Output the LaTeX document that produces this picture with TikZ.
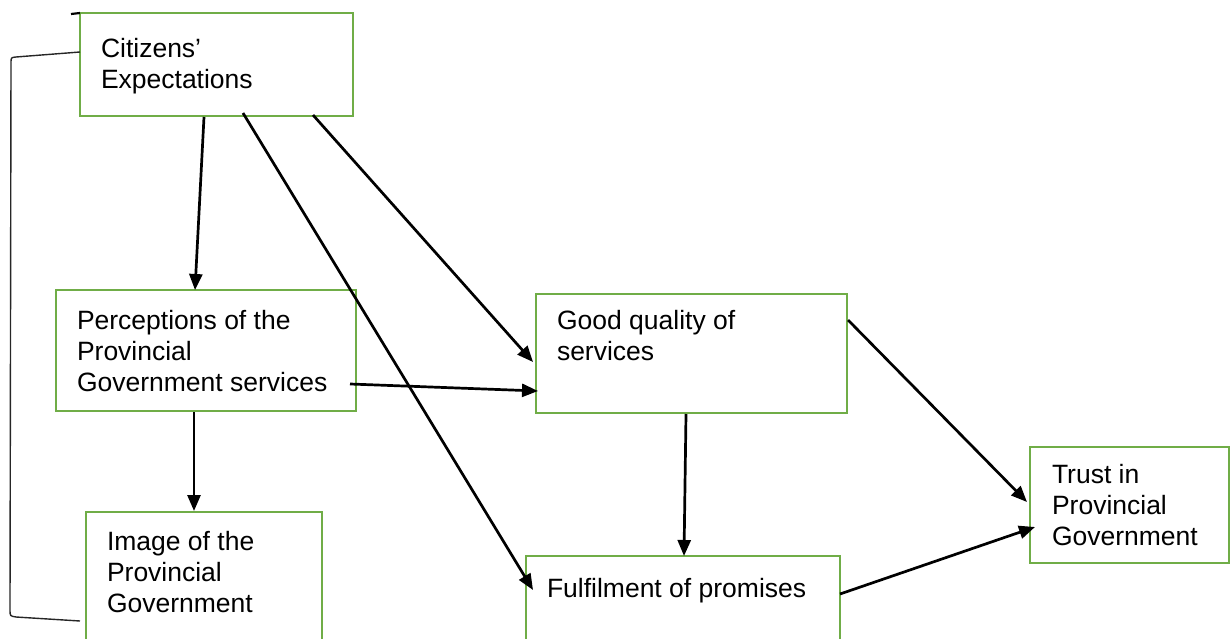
\documentclass[tikz,border=0pt]{standalone}
\usepackage{fontspec}
\setmainfont{Liberation Sans}
\usetikzlibrary{calc,arrows.meta}
\definecolor{boxgreen}{RGB}{112,173,71}
\begin{document}
\begin{tikzpicture}[x=1pt,y=-1pt,
  box/.style={draw=boxgreen, line width=2.8pt, inner sep=0pt, outer sep=0pt,
              anchor=north west, rectangle},
  % anchored at the baseline of the last line of the label
  lbl/.style={anchor=base west, inner sep=0pt, outer sep=0pt, align=left,
              font=\fontsize{26.5}{31}\selectfont},
  arr/.style={line width=2.7pt, -{Triangle[length=16pt,width=13pt]}},
  bracket/.style={line width=1.4pt, draw=black!85},
  tick/.style={line width=2.2pt}]
  \useasboundingbox (0,0) rectangle (1230,639);
  \clip (0,0) rectangle (1230,639);

  \coordinate (bracket-top) at (80,52);
  \coordinate (bracket-bot) at (80,621);

  % boxes
  \node[box, minimum width=273pt, minimum height=103pt] (ce)  at (80,13)   {};
  \node[box, minimum width=300pt, minimum height=121pt] (ppg) at (56,290)  {};
  \node[box, minimum width=236pt, minimum height=140pt] (ipg) at (86,512)  {};
  \node[box, minimum width=311pt, minimum height=119pt] (gqs) at (536,294) {};
  \node[box, minimum width=314pt, minimum height=100pt] (fp)  at (526,556) {};
  \node[box, minimum width=199pt, minimum height=116pt] (tpg) at (1030,447) {};

  % small mark at the top left corner of the first box
  \draw[tick] ($(ce.north west)+(-9,1)$) -- (ce.north west);

  % grouping bracket on the left
  \draw[bracket] (ce.north west |- bracket-top) -- (16,57)
    .. controls (11,57.5) .. (11,63) -- (10,610)
    .. controls (10,616) .. (16,617) -- (bracket-bot);

  % labels
  \node[lbl] (ce-t)  at (101,89)  {Citizens’\\Expectations};
  \node[lbl] (ppg-t) at (77,391)  {Perceptions of the\\Provincial\\Government services};
  \node[lbl] (ipg-t) at (107,612) {Image of the\\Provincial\\Government};
  \node[lbl] (gqs-t) at (557,360) {Good quality of\\services};
  \node[lbl] (fp-t)  at (547,597) {Fulfilment of promises};
  \node[lbl] (tpg-t) at (1052,545) {Trust in\\Provincial\\Government};

  % connectors
  \draw[arr] ($(ce.north west)+(124,104)$)  -- ($(ppg.north west)+(139,0)$);
  \draw[arr] ($(ce.north west)+(163,100)$)  -- ($(fp.north west)+(7,34)$);
  \draw[arr] ($(ce.north west)+(233,102)$)  -- ($(gqs.north west)+(-3,68)$);
  \draw[arr] ($(ppg.north west)+(294,94)$)  -- ($(gqs.north west)+(2,97)$);
  \draw[arr] ($(ppg.north west)+(138,122)$) -- ($(ipg.north west)+(108,-1)$);
  \draw[arr] ($(gqs.north west)+(150,120)$) -- ($(fp.north west)+(158,0)$);
  \draw[arr] ($(gqs.north west)+(312,26)$)  -- ($(tpg.north west)+(-3,55)$);
  \draw[arr] ($(fp.north west)+(314,38)$)   -- ($(tpg.north west)+(5,80)$);
\end{tikzpicture}
\end{document}
